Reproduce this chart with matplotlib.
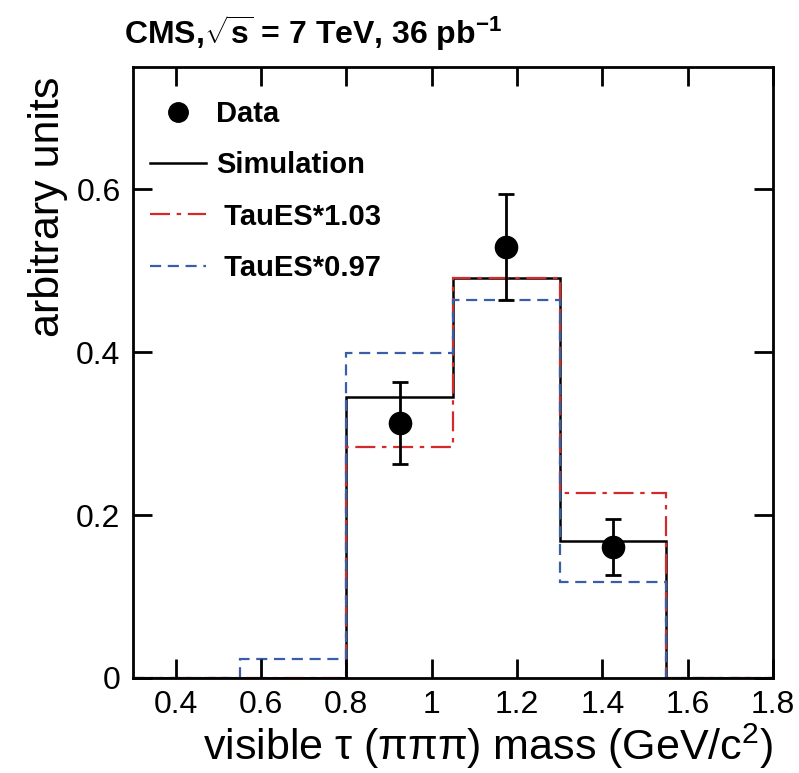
import numpy as np
import matplotlib.pyplot as plt
from matplotlib.lines import Line2D

plt.rcParams['font.family'] = ['Liberation Sans', 'DejaVu Sans']
plt.rcParams['mathtext.fontset'] = 'custom'
plt.rcParams['mathtext.rm'] = 'Liberation Sans'
plt.rcParams['mathtext.bf'] = 'Liberation Sans:bold'

# binning of the visible tau mass
edges = [0.3, 0.55, 0.8, 1.05, 1.3, 1.55, 1.8]
sim = [0.0, 0.0, 0.345, 0.491, 0.168, 0.0]
es_up = [0.0, 0.0, 0.283, 0.491, 0.227, 0.0]
es_down = [0.0, 0.023, 0.399, 0.464, 0.118, 0.0]

data_x = [0.925, 1.175, 1.425]
data_y = [0.313, 0.529, 0.161]
data_err = [0.050, 0.065, 0.034]

fig = plt.figure(figsize=(7.99, 7.73), dpi=100)
ax = fig.add_axes([0.1665, 0.1229, 0.801, 0.7904])

ax.stairs(sim, edges, color='black', lw=1.8)
ax.stairs(es_up, edges, color='#d42a2a', lw=1.6, ls=(0, (9, 3, 2, 3)))
ax.stairs(es_down, edges, color='#3a5da8', lw=1.6, ls=(0, (5, 3)))
ax.errorbar(data_x, data_y, yerr=data_err, fmt='o', color='black', ms=16,
            elinewidth=2, capsize=6, capthick=2)

ax.set_xlim(0.3, 1.8)
ax.set_ylim(0, 0.75)
ax.set_xticks([0.4, 0.6, 0.8, 1.0, 1.2, 1.4, 1.6, 1.8])
ax.set_xticklabels(['0.4', '0.6', '0.8', '1', '1.2', '1.4', '1.6', '1.8'])
ax.set_yticks([0, 0.2, 0.4, 0.6])
ax.set_yticklabels(['0', '0.2', '0.4', '0.6'])
ax.tick_params(direction='in', length=14, width=2, labelsize=23,
               top=True, right=True, pad=9)
for s in ax.spines.values():
    s.set_linewidth(2)

ax.set_xlabel(r'visible τ (πππ) mass (GeV/c$^2$)', fontsize=31, loc='right', labelpad=1)
ax.set_ylabel('arbitrary units', fontsize=31, loc='top', labelpad=6)
ax.yaxis.label.set_y(0.985)

# legend handles: plain lines instead of the step patches
hs = [Line2D([], [], marker='o', ls='none', color='black', ms=14),
      Line2D([], [], color='black', lw=1.8),
      Line2D([], [], color='#d42a2a', lw=1.6, ls=(0, (9, 3, 2, 3))),
      Line2D([], [], color='#3a5da8', lw=1.6, ls=(0, (5, 3)))]
labels = ['Data', 'Simulation', ' TauES*1.03', ' TauES*0.97']
ax.legend(hs, labels, loc='upper left', frameon=False,
          prop={'weight': 'bold', 'size': 21}, labelspacing=0.8,
          handlelength=1.9, handletextpad=0.35, borderpad=0, borderaxespad=0,
          bbox_to_anchor=(0.027, 0.946))

fig.text(0.155, 0.957, r'CMS,$\sqrt{\mathbf{s}}$ = 7 TeV, 36 pb$^{\mathbf{-1}}$',
         fontsize=23, fontweight='bold', va='center', ha='left')

fig.savefig('out.png', dpi=100)
